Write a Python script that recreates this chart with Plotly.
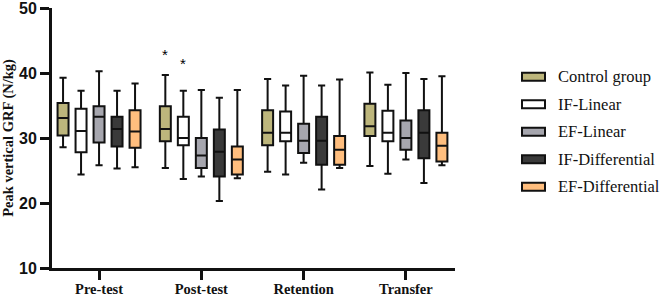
import plotly.graph_objects as go

categories = ["Pre-test", "Post-test", "Retention", "Transfer"]
groups = ["Control group", "IF-Linear", "EF-Linear", "IF-Differential", "EF-Differential"]
colors = ["#BDB67C", "#FFFFFF", "#A6A6AE", "#3A3A3A", "#FFBE7E"]

# per group: values for [Pre-test, Post-test, Retention, Transfer]
upper = {
    "Control group":   [39.3, 39.7, 39.1, 40.1],
    "IF-Linear":       [37.3, 37.3, 38.1, 38.2],
    "EF-Linear":       [40.3, 37.4, 39.6, 40.0],
    "IF-Differential": [37.3, 36.2, 38.1, 39.1],
    "EF-Differential": [38.4, 37.4, 39.0, 39.5],
}
q3 = {
    "Control group":   [35.4, 34.9, 34.3, 35.3],
    "IF-Linear":       [34.5, 33.3, 34.1, 34.2],
    "EF-Linear":       [34.9, 30.0, 32.2, 32.7],
    "IF-Differential": [33.3, 31.3, 33.3, 34.3],
    "EF-Differential": [34.3, 28.7, 30.3, 30.8],
}
median = {
    "Control group":   [33.1, 31.4, 30.8, 31.8],
    "IF-Linear":       [31.1, 30.0, 30.8, 30.8],
    "EF-Linear":       [33.3, 27.3, 29.6, 30.0],
    "IF-Differential": [31.4, 27.9, 29.6, 30.8],
    "EF-Differential": [31.0, 26.7, 28.2, 28.8],
}
q1 = {
    "Control group":   [30.4, 29.5, 28.9, 30.3],
    "IF-Linear":       [27.8, 28.9, 29.5, 29.5],
    "EF-Linear":       [29.3, 25.4, 27.7, 28.2],
    "IF-Differential": [28.7, 24.1, 25.9, 26.9],
    "EF-Differential": [28.5, 24.4, 25.9, 26.4],
}
lower = {
    "Control group":   [28.6, 25.4, 24.8, 25.7],
    "IF-Linear":       [24.4, 23.7, 24.4, 24.5],
    "EF-Linear":       [25.8, 24.1, 26.2, 26.7],
    "IF-Differential": [25.3, 20.3, 22.1, 23.1],
    "EF-Differential": [25.5, 23.8, 25.4, 25.8],
}
# significance markers: (category, group, y)
stars = [("Post-test", "Control group", 42.8), ("Post-test", "IF-Linear", 41.5)]

y_ticks = [10, 20, 30, 40, 50]

W, H = 661, 296
L, R, T, B = 52, 455, 8, 268

fig = go.Figure()
for g, c in zip(groups, colors):
    fig.add_trace(go.Box(
        name=g, x=categories,
        q1=q1[g], median=median[g], q3=q3[g],
        lowerfence=lower[g], upperfence=upper[g],
        fillcolor=c, line=dict(color="#111111", width=2),
        whiskerwidth=0.65, showlegend=False, hoverinfo="skip",
    ))

slot = 2 * 0.5 * 0.88 / len(groups)
for cat, g, yv in stars:
    xi = categories.index(cat) + slot * (groups.index(g) - (len(groups) - 1) / 2)
    fig.add_annotation(x=xi, y=yv, xref="x", yref="y", text="*", showarrow=False,
                       font=dict(family="Liberation Sans", size=15, color="#000"))

# legend drawn manually
def px2paper_x(px):
    return (px - L) / (R - L)

def px2paper_y(py):
    return (B - py) / (B - T)

row_y = [76.7, 104.2, 131.7, 159.2, 186.7]
for g, c, ry in zip(groups, colors, row_y):
    fig.add_shape(type="rect", xref="paper", yref="paper",
                  x0=px2paper_x(522), x1=px2paper_x(545),
                  y0=px2paper_y(ry + 4), y1=px2paper_y(ry - 4),
                  fillcolor=c, line=dict(color="#111111", width=2))
    fig.add_annotation(xref="paper", yref="paper", x=px2paper_x(556), y=px2paper_y(ry),
                       xanchor="left", yanchor="middle", text=g, showarrow=False,
                       font=dict(family="Liberation Serif", size=16.5, color="#111"))

fig.update_layout(
    width=W, height=H,
    margin=dict(l=L, r=W - R, t=T, b=H - B, autoexpand=False),
    paper_bgcolor="white", plot_bgcolor="white",
    boxmode="group", boxgap=0.12, boxgroupgap=0.39,
    showlegend=False,
)
fig.update_xaxes(
    type="category", range=[-0.46, 3.48], automargin=False,
    showline=True, linecolor="#111", linewidth=3,
    ticks="outside", ticklen=9, tickwidth=3, tickcolor="#111",
    tickfont=dict(family="Liberation Serif", size=14.5, color="#111"),
    ticklabelstandoff=-3, ticklabeloverflow="allow",
    showgrid=False, zeroline=False,
    tickvals=categories, ticktext=[f"<b>{c}</b>" for c in categories],
)
fig.update_yaxes(
    range=[10, 50.02], tickvals=y_ticks, ticktext=[f"<b>{v}</b>" for v in y_ticks],
    automargin=False, ticklabeloverflow="allow",
    showline=True, linecolor="#111", linewidth=3,
    ticks="outside", ticklen=9, tickwidth=3, tickcolor="#111",
    tickfont=dict(family="Liberation Sans", size=16, color="#111"),
    showgrid=False, zeroline=False,
    title=dict(text="<b>Peak vertical GRF (N/kg)</b>", standoff=4,
               font=dict(family="Liberation Serif", size=14.5, color="#111")),
)

fig.write_html("out.html", config={"displayModeBar": False},
               post_script="document.body.style.margin='0';document.body.style.overflow='hidden';")
